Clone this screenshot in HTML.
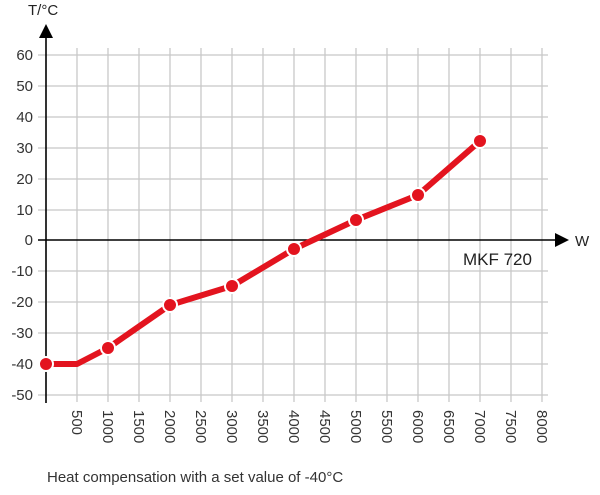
<!DOCTYPE html>
<html><head><style>body{margin:0;background:#fff}</style></head><body>
<svg width="600" height="490" xmlns="http://www.w3.org/2000/svg" font-family="Liberation Sans, sans-serif">
<rect width="600" height="490" fill="#fff"/>
<g stroke="#c8c8c8" stroke-width="1.3">
<line x1="38" x2="548" y1="55" y2="55"/><line x1="38" x2="548" y1="86" y2="86"/><line x1="38" x2="548" y1="117" y2="117"/><line x1="38" x2="548" y1="148" y2="148"/><line x1="38" x2="548" y1="179" y2="179"/><line x1="38" x2="548" y1="210" y2="210"/><line x1="38" x2="548" y1="271" y2="271"/><line x1="38" x2="548" y1="302" y2="302"/><line x1="38" x2="548" y1="333" y2="333"/><line x1="38" x2="548" y1="364" y2="364"/><line x1="38" x2="548" y1="395" y2="395"/>
<line x1="77" x2="77" y1="48" y2="402"/><line x1="108" x2="108" y1="48" y2="402"/><line x1="139" x2="139" y1="48" y2="402"/><line x1="170" x2="170" y1="48" y2="402"/><line x1="201" x2="201" y1="48" y2="402"/><line x1="232" x2="232" y1="48" y2="402"/><line x1="263" x2="263" y1="48" y2="402"/><line x1="294" x2="294" y1="48" y2="402"/><line x1="325" x2="325" y1="48" y2="402"/><line x1="356" x2="356" y1="48" y2="402"/><line x1="387" x2="387" y1="48" y2="402"/><line x1="418" x2="418" y1="48" y2="402"/><line x1="449" x2="449" y1="48" y2="402"/><line x1="480" x2="480" y1="48" y2="402"/><line x1="511" x2="511" y1="48" y2="402"/><line x1="542" x2="542" y1="48" y2="402"/>
</g>
<line x1="46" x2="46" y1="36" y2="403" stroke="#000" stroke-width="1.6"/>
<polygon points="46,24 39,38 53,38" fill="#000"/>
<line x1="38" x2="556" y1="240" y2="240" stroke="#000" stroke-width="1.6"/>
<polygon points="569,240 555,233 555,247" fill="#000"/>
<text x="28" y="15" font-size="15" fill="#222">T/°C</text>
<text x="575" y="246" font-size="15" fill="#222">W</text>
<g font-size="15" fill="#333" text-anchor="end">
<text x="33" y="60">60</text><text x="33" y="91">50</text><text x="33" y="122">40</text><text x="33" y="153">30</text><text x="33" y="184">20</text><text x="33" y="215">10</text><text x="33" y="245">0</text><text x="33" y="276">-10</text><text x="33" y="307">-20</text><text x="33" y="338">-30</text><text x="33" y="369">-40</text><text x="33" y="400">-50</text>
</g>
<g font-size="15" fill="#333">
<text transform="translate(72,410) rotate(90)">500</text>
<text transform="translate(103,410) rotate(90)">1000</text>
<text transform="translate(134,410) rotate(90)">1500</text>
<text transform="translate(165,410) rotate(90)">2000</text>
<text transform="translate(196,410) rotate(90)">2500</text>
<text transform="translate(227,410) rotate(90)">3000</text>
<text transform="translate(258,410) rotate(90)">3500</text>
<text transform="translate(289,410) rotate(90)">4000</text>
<text transform="translate(320,410) rotate(90)">4500</text>
<text transform="translate(351,410) rotate(90)">5000</text>
<text transform="translate(382,410) rotate(90)">5500</text>
<text transform="translate(413,410) rotate(90)">6000</text>
<text transform="translate(444,410) rotate(90)">6500</text>
<text transform="translate(475,410) rotate(90)">7000</text>
<text transform="translate(506,410) rotate(90)">7500</text>
<text transform="translate(537,410) rotate(90)">8000</text>
</g>
<text x="463" y="265" font-size="17" fill="#222">MKF 720</text>
<text x="47" y="482" font-size="15" fill="#333">Heat compensation with a set value of -40°C</text>
<polyline points="46,364 77,364 108,348 170,305 232,286 294,249 356,220 418,195 480,141" fill="none" stroke="#e3141f" stroke-width="6" stroke-linejoin="round"/>
<g fill="#e3141f" stroke="#fff" stroke-width="2">
<circle cx="46" cy="364" r="7"/><circle cx="108" cy="348" r="7"/><circle cx="170" cy="305" r="7"/><circle cx="232" cy="286" r="7"/><circle cx="294" cy="249" r="7"/><circle cx="356" cy="220" r="7"/><circle cx="418" cy="195" r="7"/><circle cx="480" cy="141" r="7"/>
</g>
</svg>
</body></html>
